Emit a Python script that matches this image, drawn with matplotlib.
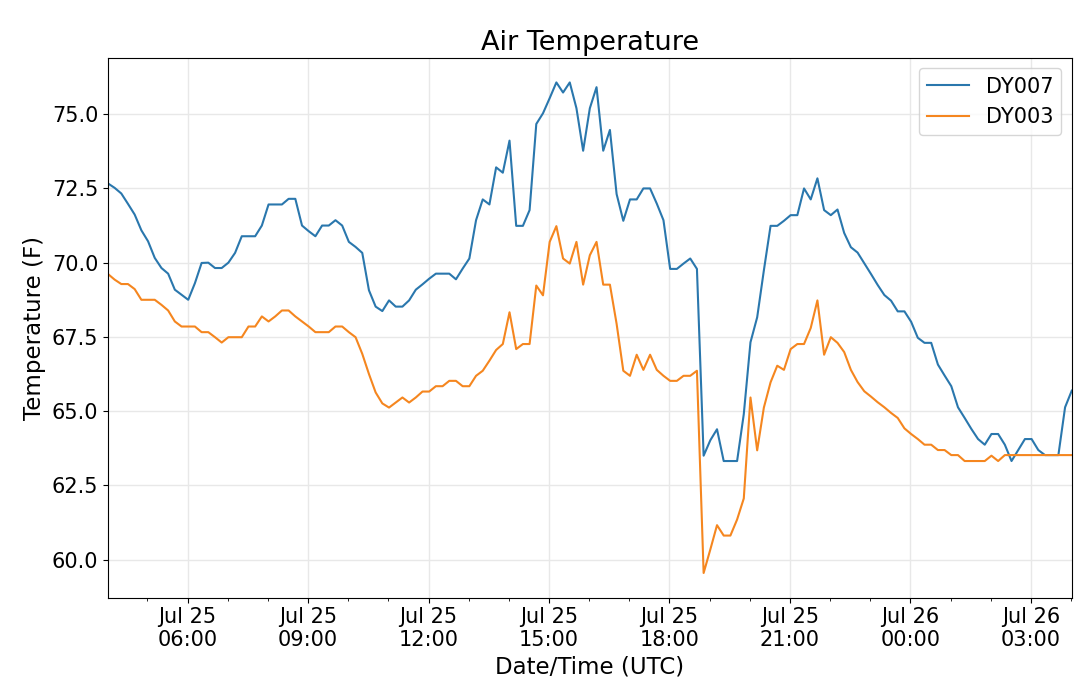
import numpy as np
import pandas as pd
import matplotlib
matplotlib.use("Agg")
import matplotlib.pyplot as plt
import matplotlib.dates as mdates

# 10-minute samples starting Jul 25 04:01 UTC
start_time = "2019-07-25 04:01"
n_samples = 145

dy007 = [
    72.67, 72.52, 72.33, 71.98, 71.62, 71.09, 70.72, 70.16, 69.82, 69.63,
    69.09, 68.92, 68.75, 69.31, 69.99, 70.00, 69.82, 69.82, 70.00, 70.33,
    70.89, 70.89, 70.89, 71.25, 71.96, 71.96, 71.96, 72.15, 72.15, 71.25,
    71.06, 70.89, 71.25, 71.25, 71.43, 71.25, 70.70, 70.53, 70.33, 69.07,
    68.52, 68.37, 68.73, 68.52, 68.52, 68.73, 69.09, 69.27, 69.46, 69.63,
    69.63, 69.63, 69.44, 69.80, 70.14, 71.43, 72.13, 71.96, 73.21, 73.03,
    74.11, 71.24, 71.24, 71.77, 74.67, 75.03, 75.54, 76.07, 75.73, 76.07,
    75.20, 73.77, 75.20, 75.91, 73.77, 74.47, 72.31, 71.41, 72.13, 72.13,
    72.50, 72.50, 71.99, 71.43, 69.79, 69.79, 69.97, 70.14, 69.79, 63.50,
    64.02, 64.39, 63.32, 63.32, 63.32, 64.90, 67.32, 68.16, 69.74, 71.24,
    71.24, 71.41, 71.60, 71.60, 72.50, 72.13, 72.84, 71.77, 71.60, 71.79,
    71.00, 70.52, 70.34, 69.98, 69.62, 69.25, 68.91, 68.72, 68.36, 68.36,
    68.01, 67.47, 67.30, 67.30, 66.57, 66.20, 65.84, 65.13, 64.77, 64.40,
    64.06, 63.87, 64.23, 64.23, 63.87, 63.32, 63.69, 64.06, 64.06, 63.69,
    63.52, 63.52, 63.52, 65.13, 65.69,
]

dy003 = [
    69.62, 69.43, 69.28, 69.28, 69.11, 68.75, 68.75, 68.75, 68.58, 68.39,
    68.02, 67.85, 67.85, 67.85, 67.66, 67.66, 67.49, 67.31, 67.49, 67.49,
    67.49, 67.85, 67.85, 68.19, 68.02, 68.19, 68.39, 68.39, 68.19, 68.02,
    67.85, 67.66, 67.66, 67.66, 67.85, 67.85, 67.66, 67.49, 66.93, 66.25,
    65.63, 65.26, 65.12, 65.29, 65.46, 65.29, 65.46, 65.66, 65.66, 65.84,
    65.84, 66.02, 66.02, 65.84, 65.84, 66.19, 66.36, 66.70, 67.06, 67.26,
    68.33, 67.09, 67.26, 67.26, 69.23, 68.90, 70.70, 71.23, 70.14, 69.97,
    70.70, 69.26, 70.25, 70.70, 69.26, 69.26, 67.94, 66.36, 66.19, 66.90,
    66.39, 66.90, 66.39, 66.19, 66.02, 66.02, 66.19, 66.19, 66.36, 59.55,
    60.34, 61.16, 60.81, 60.81, 61.35, 62.06, 65.46, 63.68, 65.12, 65.97,
    66.53, 66.39, 67.09, 67.26, 67.26, 67.80, 68.73, 66.90, 67.49, 67.30,
    66.99, 66.39, 65.98, 65.67, 65.49, 65.30, 65.13, 64.94, 64.77, 64.42,
    64.23, 64.06, 63.87, 63.87, 63.69, 63.69, 63.52, 63.52, 63.32, 63.32,
    63.32, 63.32, 63.50, 63.32, 63.52, 63.52, 63.52, 63.52, 63.52, 63.52,
    63.52, 63.52, 63.52, 63.52, 63.52,
]

times = pd.date_range(start_time, periods=n_samples, freq="10min")

fig = plt.figure(figsize=(10.79, 6.86), dpi=100)
ax = fig.add_axes([0.1, 0.129, 0.8933, 0.7866])

ax.plot(times, dy007, color="#2a77ad", lw=1.5, label="DY007")
ax.plot(times, dy003, color="#f5861f", lw=1.5, label="DY003")

ax.set_xlim(times[0], times[-1])
ax.xaxis.set_major_locator(mdates.HourLocator(byhour=range(0, 24, 3)))
ax.xaxis.set_minor_locator(mdates.HourLocator())
ax.xaxis.set_major_formatter(mdates.DateFormatter("%b %d\n%H:%M"))
ax.yaxis.set_major_formatter(matplotlib.ticker.FormatStrFormatter("%.1f"))

ax.grid(True, color="#e8e8e8", lw=1.0)
ax.set_axisbelow(True)
ax.tick_params(axis="both", which="major", labelsize=15)

ax.set_title("Air Temperature", fontsize=19.5)
ax.set_xlabel("Date/Time (UTC)", fontsize=16.5)
ax.set_ylabel("Temperature (F)", fontsize=16.5)
ax.legend(loc="upper right", fontsize=15)

fig.savefig("out.png", dpi=100)
